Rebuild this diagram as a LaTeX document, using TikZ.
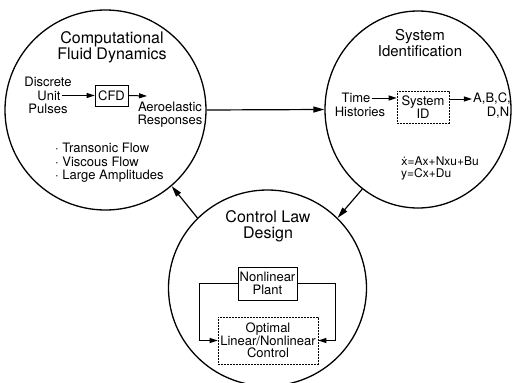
\documentclass[tikz,border=0pt]{standalone}
\usepackage{fontspec}
\setmainfont{TeX Gyre Heros}
\newfontfamily\dejavu[Scale=0.92]{DejaVu Sans}
\usetikzlibrary{arrows.meta,shapes.geometric}

\tikzset{
  stage/.style={draw, ellipse, line width=1.3pt, inner sep=0pt},
  heading/.style={align=center, inner sep=0pt, font=\fontsize{16}{16}\selectfont},
  smalltext/.style={align=center, inner sep=1pt, font=\fontsize{13}{13.5}\selectfont},
  blockbox/.style={draw, line width=0.7pt, align=center, inner sep=1pt, font=\fontsize{13}{12.5}\selectfont},
  roughbox/.style={blockbox, dash pattern=on 2pt off 1pt},
  flow/.style={line width=1.2pt, -{Triangle[length=11pt,width=6pt]}},
  feed/.style={line width=1pt, -{Triangle[length=8pt,width=5pt]}}
}

\begin{document}
\begin{tikzpicture}[x=1pt,y=-1pt]
\useasboundingbox (0,0) rectangle (512,383);

\node[stage, minimum width=201pt, minimum height=200pt] (cfd) at (105.5,110) {};
\node[stage, minimum width=186pt, minimum height=197pt] (sysid) at (418,109.5) {};
\node[stage, minimum width=198pt, minimum height=196pt] (ctrl) at (267.5,288) {};

\node[heading] (cfdtitle) at (112,47) {Computational\\Fluid Dynamics};
\node[heading, font=\fontsize{15}{16}\selectfont] (sysidtitle) at (420,43) {System\\Identification};
\node[heading] (ctrltitle) at (268,226) {Control Law\\Design};

\node[smalltext] (discrete) at (48,82) {Discrete};
\node[smalltext] (unit) at (49,95.5) {Unit};
\node[smalltext] (pulses) at (48,109) {Pulses};
\node[blockbox, minimum width=33pt, minimum height=21pt] (cfdbox) at (111.5,95.5) {CFD};
\node[smalltext] (aero) at (170,114.5) {Aeroelastic\\Responses};
\coordinate (respin) at (147,96);
\draw[feed] (unit.east) -- (cfdbox.west);
\draw[feed] (cfdbox.east) -- (respin);
\node[smalltext, align=left, anchor=west] (effects) at (54,163)
  {\textperiodcentered\ Transonic Flow\\\textperiodcentered\ Viscous Flow\\\textperiodcentered\ Large Amplitudes};

\node[smalltext] (time) at (356,98) {Time};
\node[smalltext] (histories) at (360,112) {Histories};
\node[roughbox, minimum width=52pt, minimum height=32pt] (idbox) at (423,107) {System\\ID};
\node[smalltext] (abc) at (492,99) {A,B,C,};
\node[smalltext] (dn) at (498,113) {D,N};
\draw[feed] (time.east) -- (time.east -| idbox.west);
\draw[feed] (idbox.east |- abc.west) -- (abc.west);
\node[smalltext, font=\fontsize{12}{11.5}\selectfont, align=left, anchor=west] (model) at (400,168.5)
  {{\dejavu ẋ}=Ax+Nxu+Bu\\y=Cx+Du};

\node[blockbox, minimum width=59pt, minimum height=33pt] (plant) at (267.5,283.5) {Nonlinear\\Plant};
\node[roughbox, minimum width=100pt, minimum height=47pt] (law) at (268,340.5) {Optimal\\Linear/Nonlinear\\Control};
\draw[feed] (plant.west) -- ++(-38,0) |- (law.west);
\draw[feed] (plant.east) -- ++(38,0) |- (law.east);

\draw[flow] (cfd.east) -- (sysid.west);
\draw[flow] (sysid.235) -- (ctrl.45);
\draw[flow] (ctrl.135) -- (cfd.-49);
\end{tikzpicture}
\end{document}
